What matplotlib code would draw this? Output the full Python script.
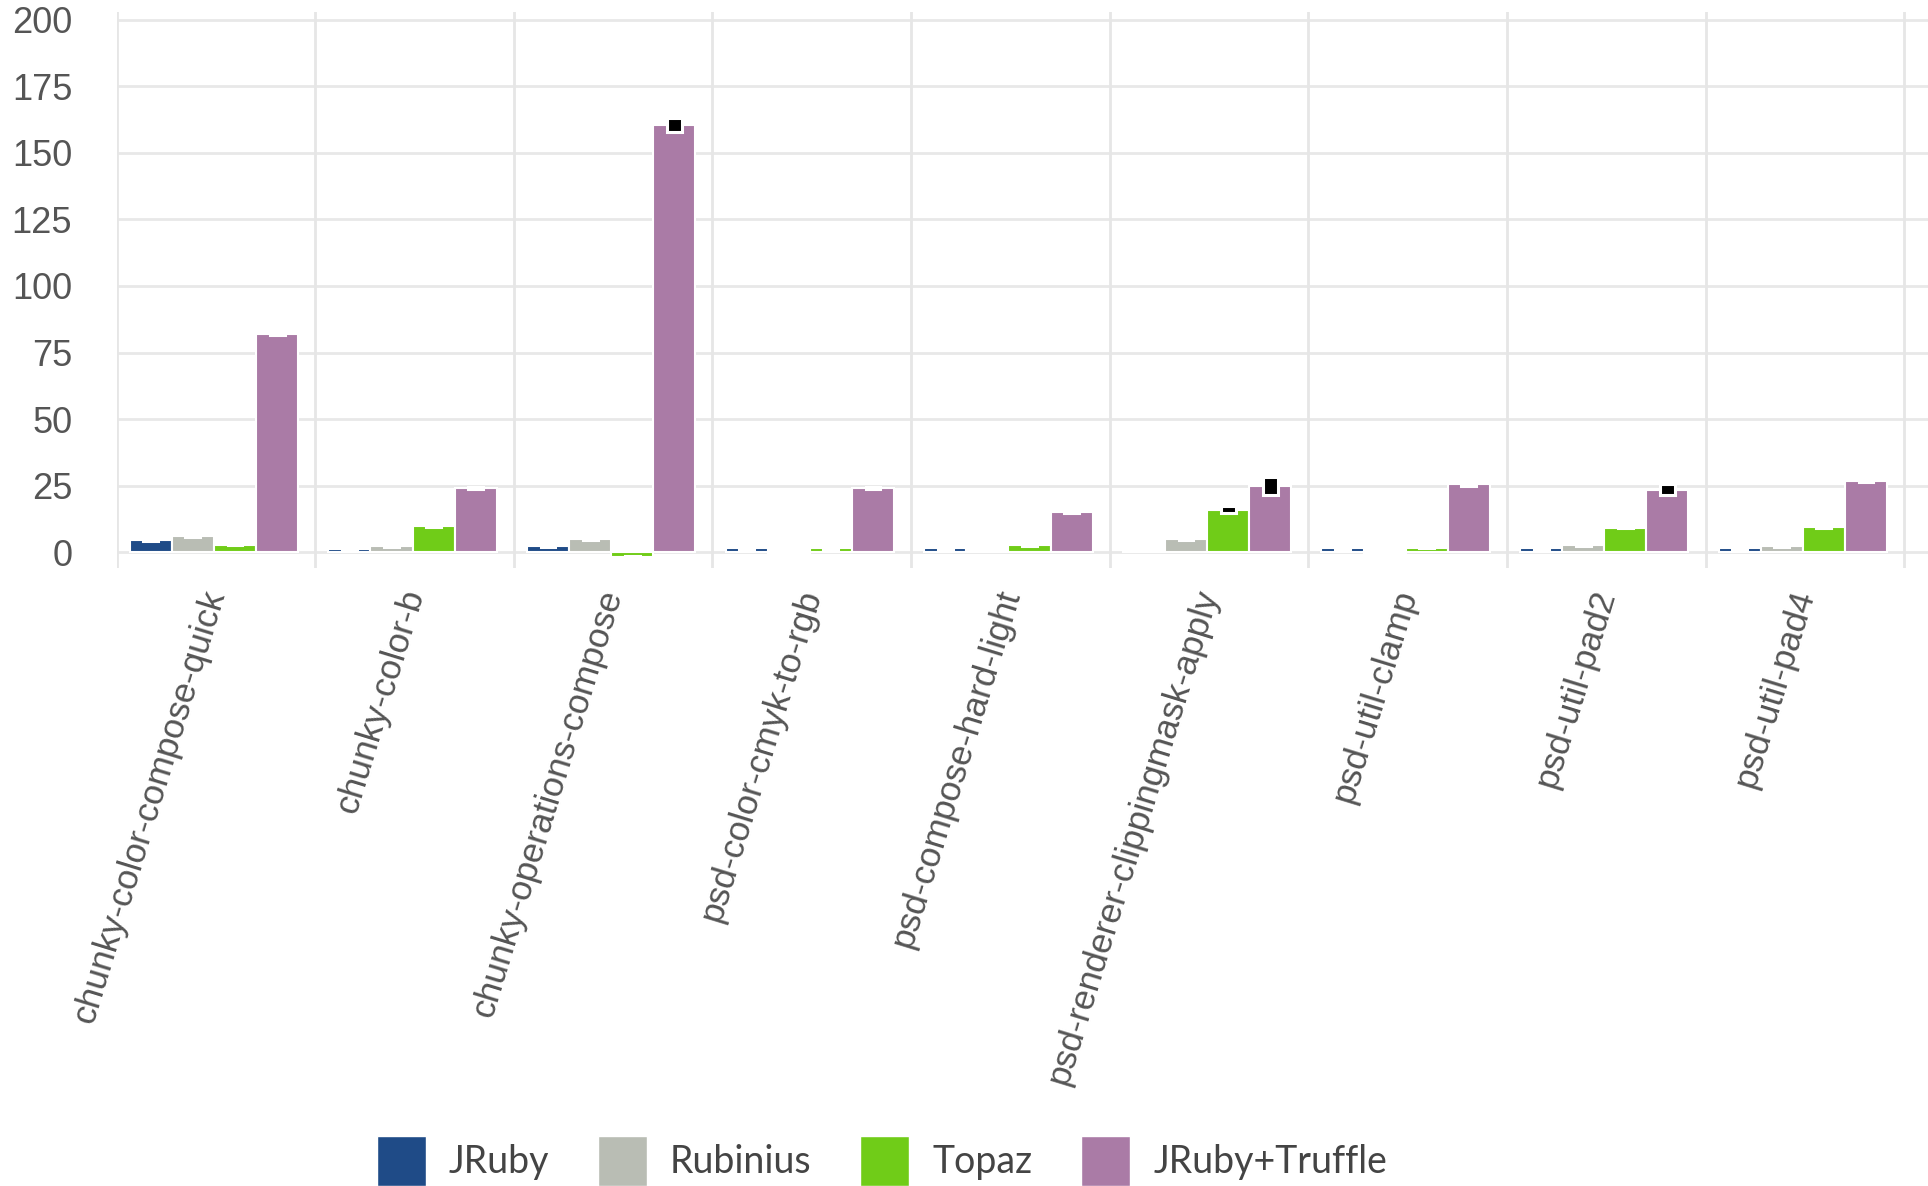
import matplotlib
matplotlib.use("Agg")
import matplotlib.pyplot as plt
import numpy as np
from matplotlib.patches import Patch

benchmarks = [
    "chunky-color-compose-quick",
    "chunky-color-b",
    "chunky-operations-compose",
    "psd-color-cmyk-to-rgb",
    "psd-compose-hard-light",
    "psd-renderer-clippingmask-apply",
    "psd-util-clamp",
    "psd-util-pad2",
    "psd-util-pad4",
]
series = ["JRuby", "Rubinius", "Topaz", "JRuby+Truffle"]
colors = ["#1f4b87", "#b9bdb4", "#70cc18", "#aa7ba6"]

jruby = [4.5, 1.3, 2.2, 1.5, 1.5, 0.9, 1.5, 1.4, 1.4]
rubinius = [6.2, 2.4, 4.8, -0.8, 0.8, 4.8, -0.8, 2.6, 2.3]
topaz = [2.8, 9.8, -1.8, 1.4, 2.8, 16.0, 1.6, 9.2, 9.5]
truffle = [82.0, 24.0, 160.5, 24.0, 15.0, 25.0, 25.5, 23.5, 26.8]

jruby_err = [0.3, 0.2, 0.3, 0.2, 0.2, 0.2, 0.2, 0.2, 0.2]
rubinius_err = [0.4, 0.3, 0.4, 0.2, 0.2, 0.3, 0.2, 0.3, 0.2]
topaz_err = [0.3, 0.3, 0.3, 0.2, 0.4, 1.2, 0.2, 0.3, 0.3]
truffle_err = [0.5, 0.4, 2.8, 0.4, 0.3, 3.4, 0.5, 2.0, 0.3]

values = [jruby, rubinius, topaz, truffle]
errors = [jruby_err, rubinius_err, topaz_err, truffle_err]

yticks = [0, 25, 50, 75, 100, 125, 150, 175, 200]

fig = plt.figure(figsize=(19.28, 11.86), dpi=100)
ax = fig.add_axes([0.0605, 0.521, 0.9395, 0.469])

x = np.arange(len(benchmarks))
bw = 0.212
offsets = [-1.5 * bw, -0.5 * bw, 0.5 * bw, 1.5 * bw]
ew = 0.075

for vals, errs, col, off, name in zip(values, errors, colors, offsets, series):
    vals = np.array(vals)
    errs = np.array(errs)
    ax.bar(x + off - 0.01, vals, width=bw, color=col, edgecolor="white",
           linewidth=1.5, zorder=3, label=name)
    ax.bar(x + off - 0.01, 2 * errs, bottom=vals - errs, width=ew,
           color="black", edgecolor="white", linewidth=2.2, zorder=4)

ax.set_xlim(-0.5, 8.62)
ax.set_ylim(-6, 203)
ax.set_yticks(yticks)
ax.set_yticklabels([str(t) for t in yticks])
ax.set_xticks(x)
ax.set_xticklabels(benchmarks)

for v in yticks:
    ax.axhline(v, color="#e8e8e8", linewidth=2, zorder=1)
for b in np.arange(-0.5, 8.6, 1.0):
    ax.axvline(b, color="#e6e6e6", linewidth=2, zorder=1)

for s in ax.spines.values():
    s.set_visible(False)
ax.tick_params(axis="both", length=0)
ax.tick_params(axis="y", pad=32, labelsize=26, labelcolor="#555555")
for lab in ax.get_yticklabels():
    lab.set_fontfamily("Liberation Sans")
ax.tick_params(axis="x", pad=16, labelsize=25.5, labelcolor="#555555")
for lab in ax.get_xticklabels():
    lab.set_fontfamily("Liberation Sans")
    lab.set_rotation(73)
    lab.set_ha("right")
    lab.set_va("center")
    lab.set_rotation_mode("anchor")

handles = [Patch(facecolor=c, edgecolor="white") for c in colors]
leg = fig.legend(handles, series, loc="center", bbox_to_anchor=(0.4575, 0.021),
                 ncol=4, frameon=False, handlelength=1.3, handleheight=1.65,
                 handletextpad=0.62, columnspacing=1.3,
                 prop={"family": "Lato", "size": 27})
for t in leg.get_texts():
    t.set_color("#444444")

fig.savefig("out.png", dpi=100)
